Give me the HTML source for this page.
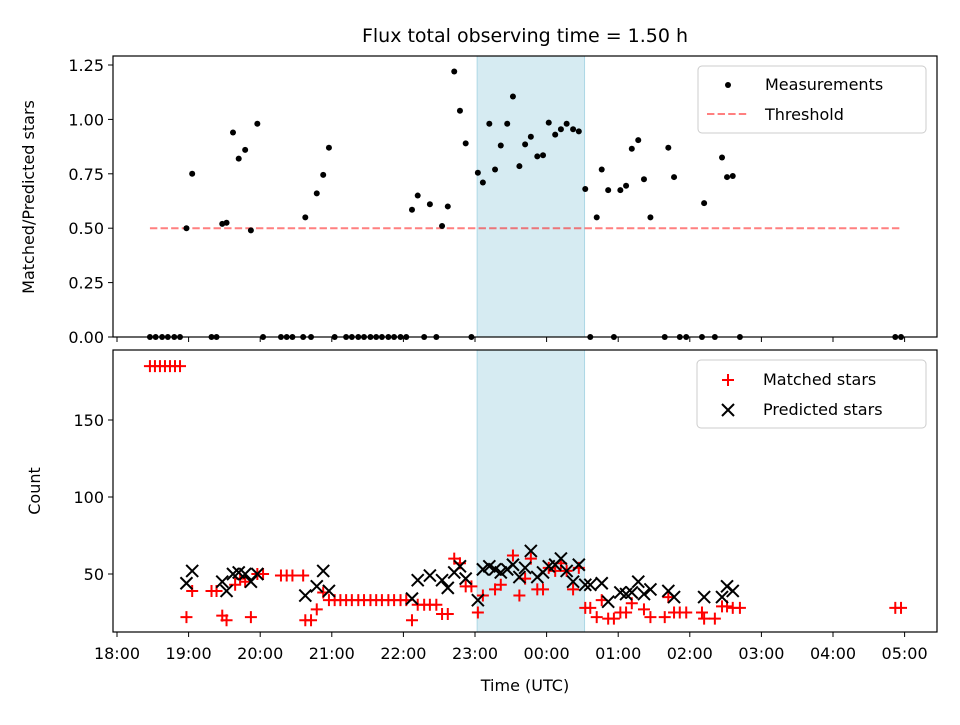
<!DOCTYPE html>
<html><head><meta charset="utf-8"><style>
body{margin:0;background:#fff}
svg text{font-family:"DejaVu Sans","Liberation Sans",sans-serif;fill:#000}
</style></head><body>
<svg id="c" width="960" height="720" xmlns="http://www.w3.org/2000/svg">
<rect width="960" height="720" fill="#fff"/>
<text x="525" y="42" font-size="19" text-anchor="middle">Flux total observing time = 1.50 h</text>
<g id="topPanel"></g>
<g id="botPanel"></g>
</svg>
<script>
// hours since 18:00
const ratioTimes=[0.46,0.54,0.63,0.71,0.80,0.88,0.97,1.05,1.32,1.39,1.47,1.53,1.62,1.70,1.79,1.87,1.96,2.04,2.29,2.37,2.45,2.60,2.63,2.71,2.79,2.88,2.96,3.04,3.20,3.28,3.37,3.45,3.54,3.62,3.70,3.79,3.87,3.96,4.04,4.12,4.20,4.29,4.37,4.46,4.54,4.62,4.71,4.79,4.87,4.95,5.04,5.11,5.20,5.28,5.36,5.45,5.53,5.62,5.70,5.78,5.87,5.95,6.03,6.12,6.20,6.28,6.37,6.45,6.54,6.61,6.70,6.77,6.86,6.94,7.03,7.11,7.19,7.28,7.36,7.45,7.65,7.70,7.78,7.86,7.95,8.17,8.20,8.35,8.45,8.52,8.60,8.70,10.87,10.95];
const ratioValues=[0,0,0,0,0,0,0.50,0.75,0,0,0.52,0.525,0.94,0.82,0.86,0.49,0.98,0,0,0,0,0,0.55,0,0.66,0.745,0.87,0,0,0,0,0,0,0,0,0,0,0,0,0.585,0.65,0,0.61,0,0.51,0.60,1.22,1.04,0.89,0,0.755,0.71,0.98,0.77,0.88,0.98,1.105,0.785,0.885,0.92,0.83,0.835,0.985,0.93,0.955,0.98,0.955,0.945,0.68,0,0.55,0.77,0.675,0,0.675,0.695,0.865,0.905,0.725,0.55,0,0.87,0.735,0,0,0,0.615,0,0.825,0.735,0.74,0,0,0];
const threshold=0.5;
const matchedTimes=[0.46,0.53,0.60,0.67,0.74,0.81,0.88,0.97,1.05,1.32,1.39,1.47,1.53,1.65,1.72,1.79,1.87,1.96,2.04,2.29,2.37,2.45,2.60,2.63,2.71,2.79,2.88,2.96,3.04,3.12,3.20,3.28,3.37,3.45,3.54,3.62,3.70,3.79,3.87,3.96,4.04,4.12,4.20,4.29,4.37,4.46,4.54,4.62,4.71,4.79,4.87,4.95,5.04,5.11,5.28,5.36,5.53,5.62,5.70,5.78,5.87,5.95,6.03,6.12,6.20,6.28,6.37,6.45,6.54,6.61,6.70,6.77,6.86,6.94,7.03,7.11,7.19,7.36,7.45,7.65,7.70,7.78,7.86,7.95,8.17,8.20,8.35,8.45,8.52,8.60,8.70,10.87,10.95];
const matchedValues=[185,185,185,185,185,185,185,22,39,39,39,23,20,43,47,45,22,50,50,49,49,49,49,20,20,27,38,33,33,33,33,33,33,33,33,33,33,33,33,33,33,20,30,30,30,30,24,24,60,57,42,42,25,36,40,43,62,36,47,60,40,40,54,52,57,52,40,54,28,28,22,33,21,21,25,25,31,27,22,22,35,25,25,25,25,21,21,29,29,28,28,28,28];
const predTimes=[0.97,1.05,1.47,1.53,1.62,1.70,1.79,1.87,1.96,2.63,2.79,2.88,2.96,4.12,4.20,4.37,4.54,4.62,4.71,4.79,4.87,5.04,5.11,5.20,5.28,5.36,5.45,5.53,5.62,5.70,5.78,5.87,5.95,6.03,6.12,6.20,6.28,6.37,6.45,6.54,6.61,6.77,6.86,7.03,7.11,7.19,7.28,7.36,7.45,7.70,7.78,8.20,8.45,8.52,8.60];
const predValues=[44,52,45,39,50,51,50,45,50,36,42,52,39,34,46,49,46,41,51,55,47,33,53,55,53,51,53,56,48,54,65,48,51,55,56,60,52,45,56,43,43,44,32,38,37,38,45,37,40,39,35,35,35,42,39];
const yTicksTop=[0,0.25,0.5,0.75,1.0,1.25];
const yTickLabelsTop=["0.00","0.25","0.50","0.75","1.00","1.25"];
const yTicksBot=[50,100,150];
const xTickHours=[0,1,2,3,4,5,6,7,8,9,10,11];
const xTickLabels=["18:00","19:00","20:00","21:00","22:00","23:00","00:00","01:00","02:00","03:00","04:00","05:00"];
const windowStart=5.03, windowEnd=6.53;

const NS="http://www.w3.org/2000/svg";
const X=h=>117+71.6*h;
const YT=r=>337-217.6*r;
const YB=c=>651-1.54*c;
function mk(p,tag,a){const e=document.createElementNS(NS,tag);for(const k in a)e.setAttribute(k,a[k]);p.appendChild(e);return e;}
const topG=document.getElementById('topPanel'),botG=document.getElementById('botPanel');

function axes(g,y0,y1,labels){
  let s=mk(g,'rect',{x:X(windowStart),y:y0,width:X(windowEnd)-X(windowStart),height:y1-y0,fill:'#add8e6','fill-opacity':0.5,stroke:'#add8e6'});
  
  
  xTickHours.forEach((h,i)=>{
    mk(g,'line',{x1:X(h),x2:X(h),y1:y1,y2:y1+5,stroke:'#000','stroke-width':1});
    if(labels){const t=mk(g,'text',{x:X(h),y:y1+27,'font-size':16,'text-anchor':'middle'});t.textContent=xTickLabels[i];
      
      }
  });
}
axes(topG,56,337,false);
axes(botG,350,632,true);

yTicksTop.forEach((v,i)=>{mk(topG,'line',{x1:108,x2:113,y1:YT(v),y2:YT(v),stroke:'#000'});
  const t=mk(topG,'text',{x:104,y:YT(v)+6,'font-size':16,'text-anchor':'end'});t.textContent=yTickLabelsTop[i];
  
  });
const th=mk(topG,'line',{x1:X(ratioTimes[0]),x2:X(ratioTimes[ratioTimes.length-1]),y1:YT(threshold),y2:YT(threshold),stroke:'#ff0000','stroke-opacity':0.5,'stroke-width':2,'stroke-dasharray':'7.4,3.2'});


ratioTimes.forEach((h,i)=>{const c=mk(topG,'circle',{cx:X(h),cy:YT(ratioValues[i]),r:3,fill:'#000'});
  
  });
mk(topG,'rect',{x:113,y:56,width:824,height:281,fill:'none',stroke:'#000','stroke-width':1.2});
let yl=mk(topG,'text',{x:0,y:0,'font-size':16,'text-anchor':'middle',transform:'translate(34,197) rotate(-90)'});yl.textContent='Matched/Predicted stars';



yTicksBot.forEach(v=>{mk(botG,'line',{x1:108,x2:113,y1:YB(v),y2:YB(v),stroke:'#000'});
  const t=mk(botG,'text',{x:104,y:YB(v)+6,'font-size':16,'text-anchor':'end'});t.textContent=v;
  
  });
function plus(g,x,y){return mk(g,'path',{d:`M${x-6},${y}H${x+6}M${x},${y-6}V${y+6}`,stroke:'#ff0000','stroke-width':2});}
function cross(g,x,y){return mk(g,'path',{d:`M${x-6},${y-6}L${x+6},${y+6}M${x-6},${y+6}L${x+6},${y-6}`,stroke:'#000','stroke-width':2});}
matchedTimes.forEach((h,i)=>{const p=plus(botG,X(h),YB(matchedValues[i]));
  
  });
predTimes.forEach((h,i)=>{const p=cross(botG,X(h),YB(predValues[i]));
  
  });
mk(botG,'rect',{x:113,y:350,width:824,height:282,fill:'none',stroke:'#000','stroke-width':1.2});
let yl2=mk(botG,'text',{x:0,y:0,'font-size':16,'text-anchor':'middle',transform:'translate(40,491) rotate(-90)'});yl2.textContent='Count';


let xl=mk(botG,'text',{x:525,y:691,'font-size':16,'text-anchor':'middle'});xl.textContent='Time (UTC)';



const svg=document.getElementById('c');
const lg1=mk(svg,'g',{});


mk(lg1,'rect',{x:698,y:66,width:228,height:67,rx:4,fill:'#fff','fill-opacity':0.8,stroke:'#ccc'});
mk(lg1,'circle',{cx:728,cy:85,r:3,fill:'#000'});
let t=mk(lg1,'text',{x:765,y:90,'font-size':16});t.textContent='Measurements';
mk(lg1,'line',{x1:707,x2:748,y1:114,y2:114,stroke:'#ff0000','stroke-opacity':0.5,'stroke-width':2,'stroke-dasharray':'7.4,3.2'});
t=mk(lg1,'text',{x:765,y:120,'font-size':16});t.textContent='Threshold';
const lg2=mk(svg,'g',{});


mk(lg2,'rect',{x:697,y:360,width:229,height:68,rx:4,fill:'#fff','fill-opacity':0.8,stroke:'#ccc'});
plus(lg2,728,380);
t=mk(lg2,'text',{x:763,y:385,'font-size':16});t.textContent='Matched stars';
cross(lg2,728,410);
t=mk(lg2,'text',{x:763,y:415,'font-size':16});t.textContent='Predicted stars';
</script>
</body></html>
